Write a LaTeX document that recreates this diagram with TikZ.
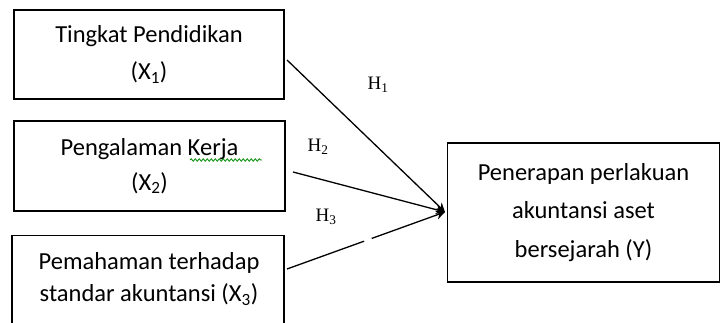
\documentclass[tikz,border=0pt]{standalone}
\usepackage{fontspec}
\setmainfont{Carlito}
\newfontfamily\hfont{Liberation Serif}
\usetikzlibrary{arrows.meta,decorations.pathmorphing}
\begin{document}
\begin{tikzpicture}[x=1pt,y=1pt,
  varbox/.style={draw=black, line width=1.3pt, inner sep=0pt, align=center,
    font=\fontsize{24.5}{37}\selectfont},
  path/.style={draw=black, line width=1.3pt, -{Stealth[length=9pt,width=9pt]}},
  hyp/.style={font=\hfont\fontsize{19}{19}\selectfont, inner sep=0pt}]
\useasboundingbox (0,0) rectangle (720,323);
\clip (0,0) rectangle (720,323);
% independent variables
\node[varbox, minimum width=270pt, minimum height=89pt] (x1) at (149,268.5)
  {Tingkat Pendidikan\\(X\textsubscript{1})};
\node[varbox, minimum width=271pt, minimum height=90pt,
  font=\fontsize{24.5}{35}\selectfont] (x2) at (149.5,157)
  {Pengalaman Kerja\\(X\textsubscript{2})};
\node[varbox, minimum width=272pt, minimum height=100pt, anchor=north] (x3) at (148,88) {};
\node[font=\fontsize{24.5}{32}\selectfont, align=center] (x3t) at (149,44)
  {Pemahaman terhadap\\standar akuntansi (X\textsubscript{3})};
% dependent variable
\node[varbox, minimum width=272pt, minimum height=139pt,
  font=\fontsize{24.5}{38.5}\selectfont] (y) at (583.5,110.5)
  {Penerapan perlakuan\\akuntansi aset\\bersejarah (Y)};
\coordinate (tip) at (445,111);
% spell-check mark under "Kerja"
\draw[green!55!black, line width=0.8pt, decorate,
  decoration={snake, amplitude=1.2pt, segment length=4pt}] (190,163) -- (262,163);
% paths
\draw[path] (287,263) -- (tip);
\draw[path] (293,151) -- (tip);
\draw[path, dash pattern=on 82pt off 8pt on 200pt] (287,54) -- (tip);
% hypothesis labels
\node[hyp] (h1) at (378,238) {H\textsubscript{1}};
\node[hyp] (h2) at (318,176) {H\textsubscript{2}};
\node[hyp] (h3) at (326,106) {H\textsubscript{3}};
\end{tikzpicture}
\end{document}
